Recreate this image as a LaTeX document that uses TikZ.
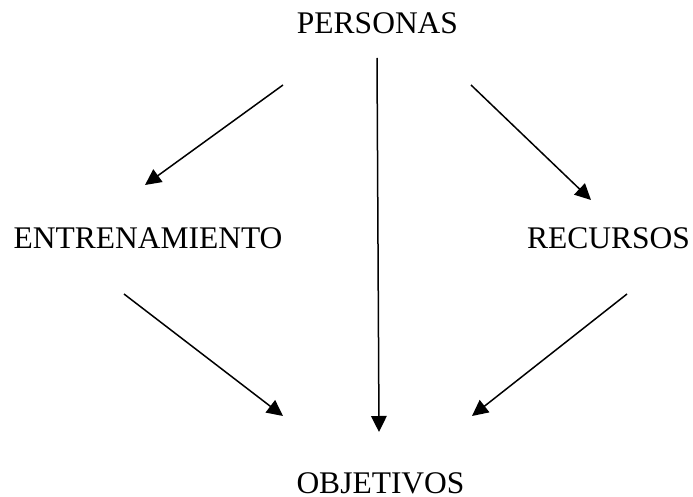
\documentclass[tikz,border=0pt]{standalone}
\usepackage{fontspec}
\setmainfont{Liberation Serif}
\usetikzlibrary{arrows.meta}
\tikzset{lbl/.style={inner sep=0pt,anchor=base,font=\fontsize{31.5}{36}\selectfont,text=black},
conn/.style={draw=black,line width=1.5pt,-{Triangle[length=16pt,width=15.5pt]}}}
\begin{document}
\begin{tikzpicture}[x=1pt,y=-1pt]
\useasboundingbox (0,0) rectangle (693,497);
\fill[white] (0,0) rectangle (693,497);
\node[lbl] (p) at (377.5,34) {PERSONAS};
\node[lbl] (e) at (148,248) {ENTRENAMIENTO};
\node[lbl] (r) at (608.5,248) {RECURSOS};
\node[lbl] (o) at (380.5,493) {OBJETIVOS};
\coordinate (a1s) at (283,85); \coordinate (a1e) at (145,185);
\coordinate (a2s) at (377,58); \coordinate (a2e) at (379,432);
\coordinate (a3s) at (471,85); \coordinate (a3e) at (591,200);
\coordinate (a4s) at (124,294); \coordinate (a4e) at (283,416);
\coordinate (a5s) at (627,294); \coordinate (a5e) at (472,416);
\draw[conn] (a1s) -- (a1e);
\draw[conn] (a2s) -- (a2e);
\draw[conn] (a3s) -- (a3e);
\draw[conn] (a4s) -- (a4e);
\draw[conn] (a5s) -- (a5e);
\end{tikzpicture}
\end{document}
